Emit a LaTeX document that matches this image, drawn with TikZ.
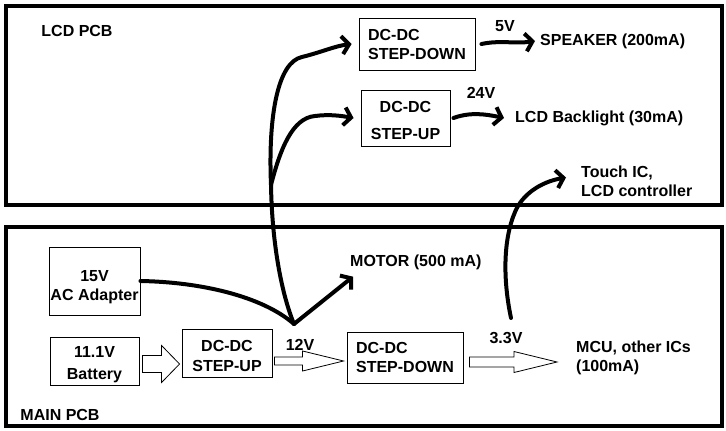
\documentclass[tikz,border=0pt]{standalone}
\usepackage{fontspec}
\setmainfont{Liberation Sans}
\usetikzlibrary{positioning,arrows.meta,calc}

% hollow block arrow between two points, same height as the first one
\newcommand\hollowarrow[5]{%
  \draw[block] let \p1=(#1), \p2=(#2) in
    (\x1,\y1+#3) -- (\x2-#5,\y1+#3) -- (\x2-#5,\y1+#4) -- (\x2,\y1)
    -- (\x2-#5,\y1-#4) -- (\x2-#5,\y1-#3) -- (\x1,\y1-#3) -- cycle;}

\begin{document}
\begin{tikzpicture}[
  x=1pt, y=-1pt,
  pcb/.style={draw, line width=4pt, inner sep=0pt, outer sep=0pt},
  conv/.style={draw, line width=0.9pt, inner sep=0pt, align=center,
    font=\bfseries\fontsize{16}{19}\selectfont},
  lbl/.style={inner sep=1pt, font=\bfseries\fontsize{16}{19}\selectfont},
  wire/.style={line width=4pt, line cap=round, line join=round},
  block/.style={draw, line width=0.8pt, fill=white},
  >={Straight Barb[length=7pt,width=18pt]}, color=black
]
\useasboundingbox (0,0) rectangle (726,431);

\node[pcb, minimum width=716pt, minimum height=199pt] (lcdpcb) at (364,105.5) {};
\node[pcb, minimum width=716pt, minimum height=199pt] (mainpcb) at (364,326.5) {};
\node[lbl] (lcdlbl) at (77,31) {LCD PCB};
\node[lbl] (mainlbl) at (60,415) {MAIN PCB};

\node[conv, minimum width=116pt, minimum height=52pt, align=left] (sdtop) at (417,44) {DC-DC\\STEP-DOWN};
\node[conv, minimum width=89pt, minimum height=56pt] (sutop) at (405.5,118) {\rule{0pt}{17pt}DC-DC\\[8pt]STEP-UP};
\node[conv, minimum width=91pt, minimum height=68pt] (adapter) at (94.5,281) {\rule{0pt}{24pt}15V\\AC Adapter};
\node[conv, minimum width=89pt, minimum height=48pt] (battery) at (94.5,361) {\rule{0pt}{18pt}11.1V\\[3pt]Battery};
\node[conv, minimum width=90pt, minimum height=48pt] (sulow) at (227,353) {\rule{0pt}{18pt}DC-DC\\[1pt]STEP-UP};
\node[conv, minimum width=116pt, minimum height=51pt, align=left] (sdlow) at (405,357.5) {DC-DC\\STEP-DOWN};

\node[lbl, anchor=west] (speaker) at (539,41) {SPEAKER (200mA)};
\node[lbl, anchor=west] (backlight) at (514,118) {LCD Backlight (30mA)};
\node[lbl, anchor=west, align=left] (touch) at (580,181.5) {Touch IC,\\LCD controller};
\node[lbl, anchor=west] (motor) at (349,262) {MOTOR (500 mA)};
\node[lbl, anchor=west, align=left] (mcu) at (575,357.5) {MCU, other ICs\\(100mA)};

\node[lbl] (v5) at (505,26) {5V};
\node[lbl] (v24) at (481,93) {24V};
\node[lbl] (v12) at (300,345) {12V};
\node[lbl] (v33) at (506,338) {3.3V};

\coordinate (j12) at (294,324);
\coordinate (br) at (271,185);
\coordinate (j33) at (511,318);

% 12V rail
\draw[wire] (adapter.east) .. controls (200,282) and (262,296) .. (j12);
\draw[wire, ->] (j12) -- ([xshift=4pt,yshift=-6pt]motor.south west);
\draw[wire] (j12) .. controls (282,295) and (272,245) .. (br);
\draw[wire, ->] (br) .. controls (268,115) and (278,62) .. (302,57) .. controls (322,52) and (335,46) .. ([xshift=-7pt]sdtop.west);
\draw[wire, ->] (br) .. controls (280,150) and (292,118) .. (315,116) .. controls (330,114) and (342,116) .. ([xshift=-7pt]sutop.west);

% LCD side outputs
\draw[wire, ->] ([xshift=6pt]sdtop.east) .. controls (500,40) and (515,44) .. ([xshift=-4pt]speaker.west);
\draw[wire, ->] ([xshift=3pt]sutop.east) .. controls (470,112) and (485,114) .. ([xshift=-10pt]backlight.west);
\draw[wire, ->] (j33) .. controls (503,280) and (503,240) .. (515,212) .. controls (522,195) and (540,182) .. ([xshift=-14pt,yshift=4pt]touch.west);

% main board power path
\hollowarrow{[xshift=3pt,yshift=-3pt]battery.east}{[xshift=-2pt]sulow.west}{8.5pt}{18.5pt}{18pt}
\hollowarrow{[xshift=2pt,yshift=-8pt]sulow.east}{[xshift=-3pt]sdlow.west}{4pt}{10pt}{41pt}
\hollowarrow{[xshift=6pt,yshift=-4.5pt]sdlow.east}{[xshift=-18pt]mcu.west}{5pt}{10.5pt}{43pt}
\end{tikzpicture}
\end{document}
